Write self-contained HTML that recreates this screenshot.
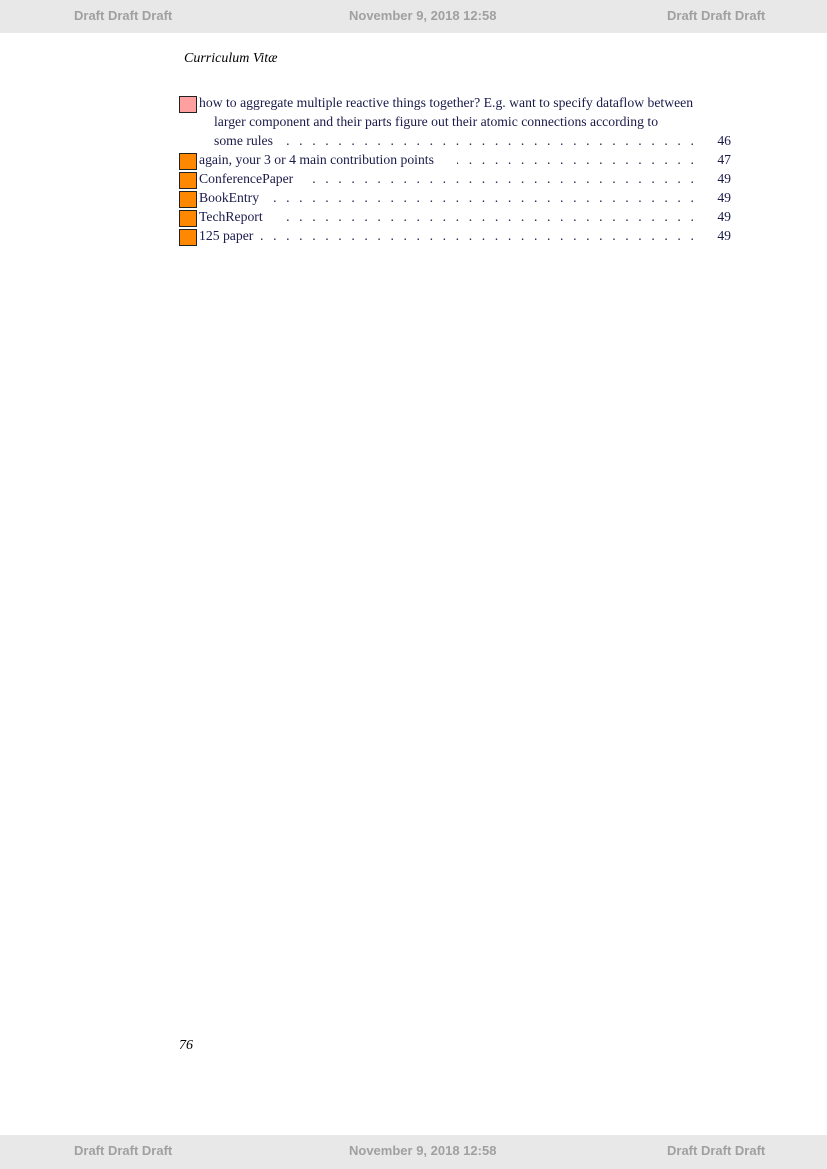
<!DOCTYPE html>
<html><head><meta charset="utf-8">
<style>
body{margin:0;width:827px;height:1169px;position:relative;background:#fff;font-family:"Liberation Serif",serif;overflow:hidden}
.band{position:absolute;left:0;width:827px;height:33px;background:#e8e8e8;color:#a0a0a0;font-family:"Liberation Sans",sans-serif;font-size:13px;font-weight:bold}
.band span{position:absolute;top:8px}
.row{position:absolute;left:179px;width:552px;height:19px;font-size:13.7px;color:#1a1a4a}
.box{position:absolute;left:0;top:2px;width:16px;height:15px;border:1px solid #222;background:#ff8800}
.t{position:absolute;left:20px;top:1px;white-space:nowrap}
.dots{position:absolute;top:1px;right:34px;overflow:hidden;white-space:nowrap;letter-spacing:3.1px;text-align:right;direction:rtl}
.pg{position:absolute;right:0;top:1px}
</style></head><body>
<div class="band" style="top:0">
<span style="left:74px">Draft Draft Draft</span><span style="left:349px">November 9, 2018 12:58</span><span style="left:667px">Draft Draft Draft</span></div>
<div style="position:absolute;left:184px;top:51px;font-style:italic;font-size:14px">Curriculum Vitæ</div>

<div class="row" style="top:94px"><div class="box" style="background:#ffa0a0"></div><div class="t">how to aggregate multiple reactive things together? E.g. want to specify dataflow between</div></div>
<div class="row" style="top:113px"><div class="t" style="left:35px">larger component and their parts figure out their atomic connections according to</div></div>
<div class="row" style="top:132px"><div class="t" style="left:35px">some rules</div><div class="dots" style="left:103px">. . . . . . . . . . . . . . . . . . . . . . . . . . . . . . . . . . . . . . . . . . . . . . . . . . . . . . . . . . . . . . .</div><div class="pg">46</div></div>
<div class="row" style="top:151px"><div class="box"></div><div class="t">again, your 3 or 4 main contribution points</div><div class="dots" style="left:278px">. . . . . . . . . . . . . . . . . . . . . . . . . . . . . . . . . . . . . . . .</div><div class="pg">47</div></div>
<div class="row" style="top:170px"><div class="box"></div><div class="t">ConferencePaper</div><div class="dots" style="left:123px">. . . . . . . . . . . . . . . . . . . . . . . . . . . . . . . . . . . . . . . . . . . . . . . . . . . . .</div><div class="pg">49</div></div>
<div class="row" style="top:189px"><div class="box"></div><div class="t">BookEntry</div><div class="dots" style="left:90px">. . . . . . . . . . . . . . . . . . . . . . . . . . . . . . . . . . . . . . . . . . . . . . . . . . . . . . . .</div><div class="pg">49</div></div>
<div class="row" style="top:208px"><div class="box"></div><div class="t">TechReport</div><div class="dots" style="left:102px">. . . . . . . . . . . . . . . . . . . . . . . . . . . . . . . . . . . . . . . . . . . . . . . . . . . . . . .</div><div class="pg">49</div></div>
<div class="row" style="top:227px"><div class="box"></div><div class="t">125 paper</div><div class="dots" style="left:82px">. . . . . . . . . . . . . . . . . . . . . . . . . . . . . . . . . . . . . . . . . . . . . . . . . . . . . . . . .</div><div class="pg">49</div></div>

<div style="position:absolute;left:179px;top:1038px;font-style:italic;font-size:14px">76</div>
<div class="band" style="top:1135px;height:34px">
<span style="left:74px">Draft Draft Draft</span><span style="left:349px">November 9, 2018 12:58</span><span style="left:667px">Draft Draft Draft</span></div>
</body></html>
